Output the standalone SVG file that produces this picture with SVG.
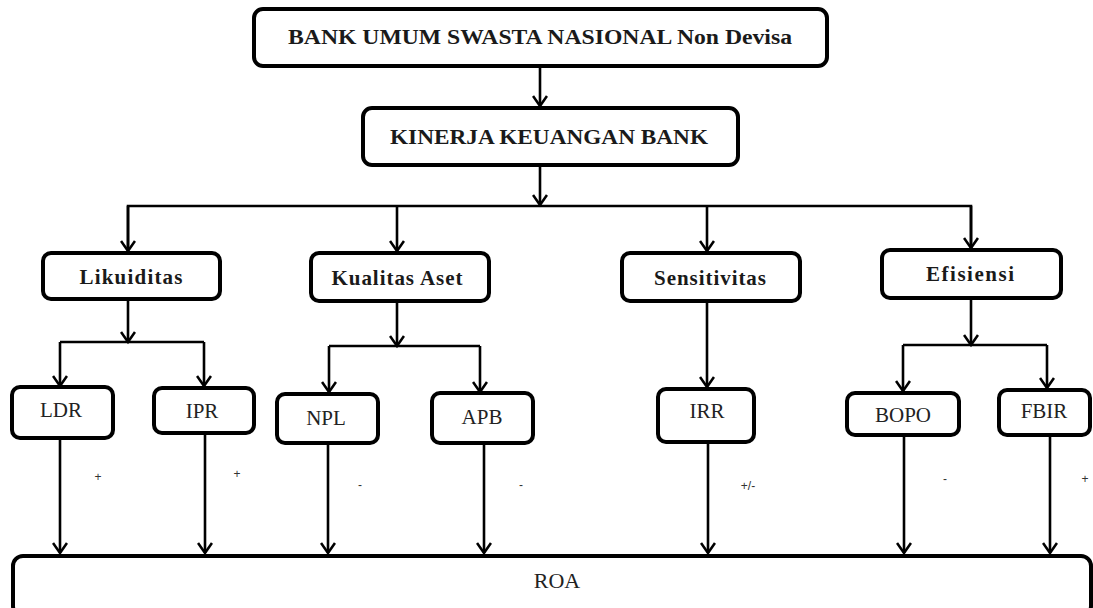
<svg xmlns="http://www.w3.org/2000/svg" width="1093" height="608" viewBox="0 0 1093 608">
<defs>
<marker id="ah" markerWidth="16" markerHeight="16" refX="13" refY="8" viewBox="0 0 16 16" markerUnits="userSpaceOnUse" orient="auto">
<path d="M3,1 L13,8 L3,15" fill="none" stroke="#000" stroke-width="2.6"/>
</marker>
<style>
.box{fill:#fff;stroke:#000;stroke-width:4}
.ln{fill:none;stroke:#000;stroke-width:2.6}
.ar{fill:none;stroke:#000;stroke-width:2.6;marker-end:url(#ah)}
.tb{font-family:"Liberation Serif",serif;font-weight:bold;fill:#1a1a1a;text-anchor:middle}
.tr{font-family:"Liberation Serif",serif;fill:#222;text-anchor:middle}
.sg{font-family:"Liberation Sans",sans-serif;font-size:12px;fill:#333;text-anchor:middle}
</style>
</defs>
<rect width="1093" height="608" fill="#fff"/>
<g id="connectors">
<line class="ar" x1="540" y1="66" x2="540" y2="106"/>
<line class="ar" x1="540" y1="166" x2="540" y2="205"/>
<polyline class="ln" points="128,250 128,206 971,206 971,248"/>
<line class="ar" x1="128" y1="206" x2="128" y2="251"/>
<line class="ar" x1="397" y1="206" x2="397" y2="251"/>
<line class="ar" x1="707" y1="206" x2="707" y2="251"/>
<line class="ar" x1="971" y1="206" x2="971" y2="248"/>
<line class="ar" x1="128" y1="299" x2="128" y2="342"/>
<polyline class="ln" points="60,342 204,342"/>
<line class="ar" x1="60" y1="342" x2="60" y2="386"/>
<line class="ar" x1="204" y1="342" x2="204" y2="386"/>
<line class="ar" x1="397" y1="301" x2="397" y2="346"/>
<polyline class="ln" points="329,346 480,346"/>
<line class="ar" x1="329" y1="346" x2="329" y2="392"/>
<line class="ar" x1="480" y1="346" x2="480" y2="392"/>
<line class="ar" x1="707" y1="301" x2="707" y2="387"/>
<line class="ar" x1="971" y1="298" x2="971" y2="345"/>
<polyline class="ln" points="903,345 1047,345"/>
<line class="ar" x1="903" y1="345" x2="903" y2="391"/>
<line class="ar" x1="1047" y1="345" x2="1047" y2="388"/>
<line class="ar" x1="60" y1="438" x2="60" y2="553"/>
<line class="ar" x1="205" y1="433" x2="205" y2="553"/>
<line class="ar" x1="328" y1="443" x2="328" y2="553"/>
<line class="ar" x1="484" y1="443" x2="484" y2="553"/>
<line class="ar" x1="708" y1="442" x2="708" y2="553"/>
<line class="ar" x1="904" y1="435" x2="904" y2="553"/>
<line class="ar" x1="1050" y1="435" x2="1050" y2="553"/>
<text class="sg" x="98" y="481">+</text>
<text class="sg" x="237" y="478">+</text>
<text class="sg" x="360" y="489">-</text>
<text class="sg" x="521" y="489">-</text>
<text class="sg" x="748" y="490">+/-</text>
<text class="sg" x="945" y="483">-</text>
<text class="sg" x="1085" y="483">+</text>
</g>
<g id="n-bank"><rect class="box" x="254" y="9" width="573" height="57" rx="9"/><text class="tb" x="540" y="44" font-size="20" textLength="504" lengthAdjust="spacingAndGlyphs">BANK UMUM  SWASTA NASIONAL  Non Devisa</text></g>
<g id="n-kinerja"><rect class="box" x="363" y="108" width="375" height="57" rx="9"/><text class="tb" x="549" y="144" font-size="20" textLength="318" lengthAdjust="spacingAndGlyphs">KINERJA KEUANGAN  BANK</text></g>
<g id="n-likuiditas"><rect class="box" x="43" y="253" width="177" height="46" rx="8"/><text class="tb" x="131" y="284" font-size="21" textLength="103" lengthAdjust="spacing">Likuiditas</text></g>
<g id="n-kualitas"><rect class="box" x="311" y="253" width="178" height="48" rx="8"/><text class="tb" x="397" y="285" font-size="21" textLength="131" lengthAdjust="spacing">Kualitas Aset</text></g>
<g id="n-sensitivitas"><rect class="box" x="622" y="253" width="178" height="48" rx="8"/><text class="tb" x="710" y="285" font-size="21" textLength="112" lengthAdjust="spacing">Sensitivitas</text></g>
<g id="n-efisiensi"><rect class="box" x="882" y="250" width="179" height="48" rx="8"/><text class="tb" x="970" y="281" font-size="21" textLength="88" lengthAdjust="spacing">Efisiensi</text></g>
<g id="n-ldr"><rect class="box" x="12" y="387" width="101" height="51" rx="8"/><text class="tr" x="61" y="417" font-size="21">LDR</text></g>
<g id="n-ipr"><rect class="box" x="154" y="388" width="100" height="45" rx="8"/><text class="tr" x="202" y="418" font-size="21">IPR</text></g>
<g id="n-npl"><rect class="box" x="277" y="394" width="101" height="49" rx="8"/><text class="tr" x="326" y="425" font-size="21">NPL</text></g>
<g id="n-apb"><rect class="box" x="432" y="393" width="101" height="50" rx="8"/><text class="tr" x="482" y="424" font-size="21">APB</text></g>
<g id="n-irr"><rect class="box" x="658" y="389" width="96" height="53" rx="8"/><text class="tr" x="707" y="418" font-size="21">IRR</text></g>
<g id="n-bopo"><rect class="box" x="847" y="393" width="112" height="42" rx="8"/><text class="tr" x="903" y="422" font-size="21">BOPO</text></g>
<g id="n-fbir"><rect class="box" x="999" y="390" width="91" height="45" rx="8"/><text class="tr" x="1044" y="418" font-size="21">FBIR</text></g>
<g id="n-roa"><rect class="box" x="13" y="556" width="1078" height="60" rx="10"/><text class="tr" x="557" y="588" font-size="22">ROA</text></g>
</svg>
